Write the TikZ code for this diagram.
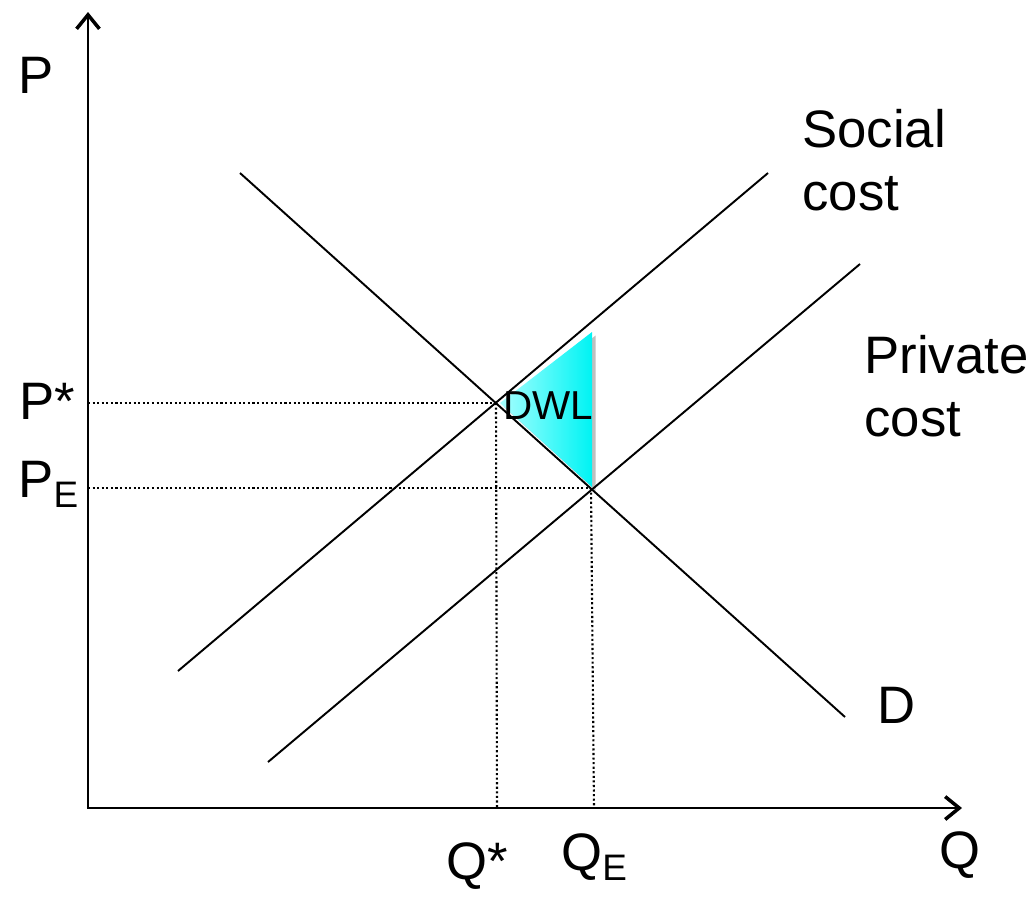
\documentclass[tikz,border=0pt]{standalone}
\usepackage{fontspec}
\setmainfont{Liberation Sans}
\usetikzlibrary{arrows.meta}
\begin{document}
\begin{tikzpicture}[x=0.02cm,y=-0.02cm,
  axis/.style={line width=1.5pt,-{Straight Barb[length=8pt,width=13pt,line width=2pt]}},
  curve/.style={line width=1.1pt},
  guide/.style={line width=1.2pt,dash pattern=on 1.2pt off 1.4pt},
  lbl/.style={font=\fontsize{30}{33}\selectfont,inner sep=0pt},
  lblL/.style={font=\fontsize{30}{36}\selectfont,inner sep=0pt,align=left,anchor=west}]
\useasboundingbox (0,0) rectangle (1033,897);
\coordinate (O) at (88,808);
\coordinate (Ytop) at (88,12);
\coordinate (Xend) at (962,808);
\coordinate (D1) at (240,173);
\coordinate (D2) at (845,717);
\coordinate (S1) at (178,671);
\coordinate (S2) at (768,173);
\coordinate (C1) at (268,762);
\coordinate (C2) at (860,264);
\coordinate (Es) at (496,403);
\coordinate (Ee) at (591,488);
\coordinate (Pst) at (88,403);
\coordinate (Pe) at (88,488);
\coordinate (Qst) at (497,808);
\coordinate (Qe) at (594,808);
\coordinate (T1) at (500,403);
\coordinate (T2) at (592,332);
\coordinate (T3) at (592,487);
% DWL triangle
\fill[black!25] ([xshift=2pt,yshift=-2pt]T1) -- ([xshift=2pt,yshift=-2pt]T2) -- ([xshift=2pt,yshift=-2pt]T3) -- cycle;
\shade[left color=cyan!35!white,right color=cyan!85!teal!60!cyan] (T1) -- (T2) -- (T3) -- cycle;
% guides
\draw[guide] (Pst) -- (Es);
\draw[guide] (Es) -- (Qst);
\draw[guide] (Pe) -- (Ee);
\draw[guide] (Ee) -- (Qe);
% curves
\draw[curve] (D1) -- (D2);
\draw[curve] (S1) -- (S2);
\draw[curve] (C1) -- (C2);
% axes
\draw[axis] (O) -- (Ytop);
\draw[axis] ([xshift=-0.7pt]O) -- (Xend);
% labels
\node[lbl] (lP) at (36,75) {P};
\node[lbl] (lPs) at (47,401) {P*};
\node[lbl,anchor=base west] (lPe) at (18,497) {P\textsubscript{E}};
\node[lbl] (lQs) at (477,866) {Q*};
\node[lbl,anchor=base west] (lQe) at (561,870) {Q\textsubscript{E}};
\node[lbl] (lQ) at (960,855) {Q};
\node[lbl] (lD) at (897,705) {D};
\node[lblL] (lSC) at (802,160) {Social\\cost};
\node[lblL] (lPC) at (864,386) {Private\\cost};
\node[font=\fontsize{23}{26}\selectfont,inner sep=0pt] (lDWL) at (548,406) {DWL};
\end{tikzpicture}
\end{document}
